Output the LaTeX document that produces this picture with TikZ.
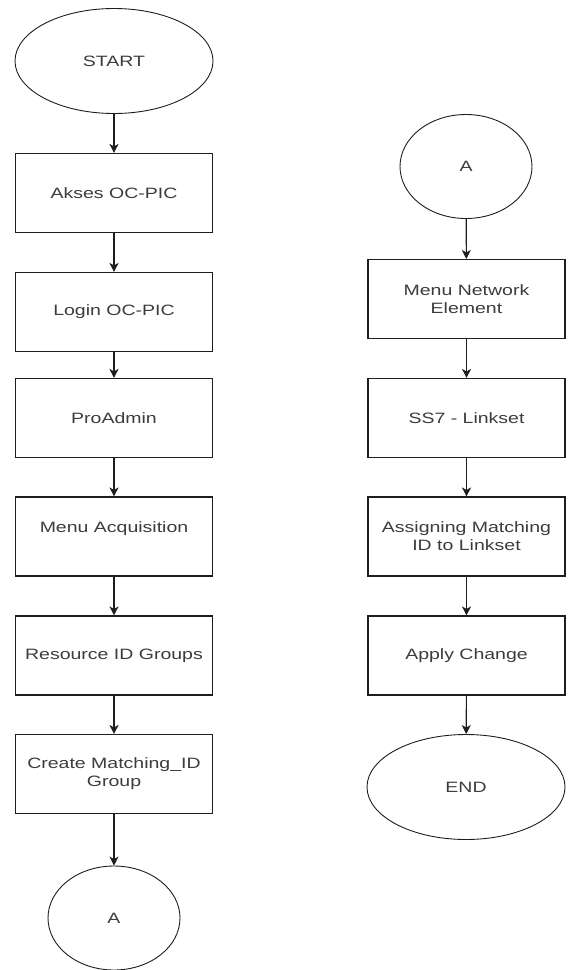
\documentclass[tikz,border=0pt]{standalone}
\usepackage{fontspec}
\setmainfont{Liberation Sans}[FakeStretch=1.3]
\usepackage{xcolor}
\usetikzlibrary{arrows.meta,shapes.geometric}
\definecolor{ink}{RGB}{30,30,30}
\definecolor{txt}{RGB}{60,60,60}
\tikzset{
  stepbox/.style={draw=ink, line width=1.1pt, fill=white, align=center,
    minimum width=197pt, minimum height=79pt, inner sep=2pt,
    text=txt, font=\fontsize{15pt}{18pt}\selectfont},
  terminal/.style={draw=ink, line width=0.9pt, ellipse, fill=white, align=center,
    minimum width=198pt, minimum height=105pt, inner sep=0pt,
    text=txt, font=\fontsize{15pt}{18pt}\selectfont},
  % konektor halaman
  connector/.style={terminal, minimum width=132pt, minimum height=104pt},
  flow/.style={draw=ink, line width=1.1pt, -{Stealth[length=9pt,width=9pt,inset=2.5pt]}}
}
\begin{document}
\begin{tikzpicture}[x=1pt,y=-1pt]
  \useasboundingbox (0,0) rectangle (568,970);
  % kolom kiri
  \node[terminal] (start) at (114,61) {START};
  \node[stepbox] (akses) at (114,193) {Akses OC-PIC};
  \node[stepbox] (login) at (114,312) {Login OC-PIC};
  \node[stepbox] (proadmin) at (114,418) {ProAdmin};
  \node[stepbox] (acq) at (114,536.5) {Menu Acquisition\\\mbox{}};
  \node[stepbox] (resid) at (114,655.5) {Resource ID Groups};
  \node[stepbox] (create) at (114,774) {Create Matching\_ID\\Group};
  \node[connector] (conA) at (114,918) {A};
  % kolom kanan
  \node[connector] (conB) at (466,166.5) {A};
  \node[stepbox] (network) at (466.5,299) {Menu Network\\Element};
  \node[stepbox] (linkset) at (466.5,418) {SS7 - Linkset};
  \node[stepbox] (assign) at (466.5,536.5) {Assigning Matching\\ID to Linkset};
  \node[stepbox] (apply) at (466.5,655.5) {Apply Change};
  \node[terminal] (finish) at (466,787) {END};
  % alur
  \draw[flow] (start) -- (akses);
  \draw[flow] (akses) -- (login);
  \draw[flow] (login) -- (proadmin);
  \draw[flow] (proadmin) -- (acq);
  \draw[flow] (acq) -- (resid);
  \draw[flow] (resid) -- (create);
  \draw[flow] (create) -- (conA);
  \draw[flow] (conB) -- (network);
  \draw[flow] (network) -- (linkset);
  \draw[flow] (linkset) -- (assign);
  \draw[flow] (assign) -- (apply);
  \draw[flow] (apply) -- (finish);
\end{tikzpicture}
\end{document}
